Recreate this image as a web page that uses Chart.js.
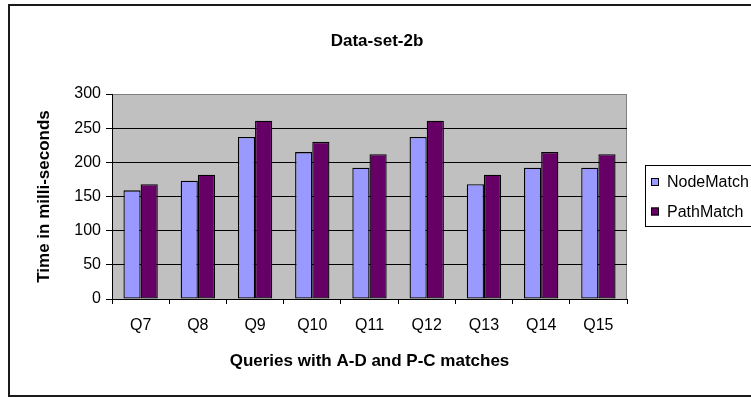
<!DOCTYPE html>
<html>
<head>
<meta charset="utf-8">
<title>Data-set-2b</title>
<script src="https://cdn.jsdelivr.net/npm/chart.js@4.4.1/dist/chart.umd.min.js"></script>
<style>
  html, body { margin: 0; padding: 0; background: #ffffff; }
  #wrap { width: 751px; height: 398px; position: relative; }
</style>
</head>
<body>
<div id="wrap"><canvas id="queryChart" width="751" height="398"></canvas></div>
<script>
// query timings, milliseconds
const queries = ['Q7', 'Q8', 'Q9', 'Q10', 'Q11', 'Q12', 'Q13', 'Q14', 'Q15'];
const nodeMatch = [159, 173, 237, 215, 192, 237, 168, 192, 192];
const pathMatch = [168, 182, 261, 230, 212, 261, 182, 215, 212];
const yTicks = [0, 50, 100, 150, 200, 250, 300];
const chartTitle = 'Data-set-2b';

const fontFamily = '"Liberation Sans", Arial, sans-serif';
const nodeColor = '#9999FF';
const pathColor = '#660066';

// white page with a frame, grey plot area behind the bars
const backdrop = {
    id: 'backdrop',
    beforeDraw(chart) {
        const { ctx, chartArea } = chart;
        ctx.save();
        ctx.fillStyle = '#ffffff';
        ctx.fillRect(0, 0, chart.width, chart.height);
        ctx.strokeStyle = '#1a1a1a';
        ctx.lineWidth = 2;
        ctx.strokeRect(9, 5, 760, 391);
        ctx.fillStyle = '#C0C0C0';
        ctx.fillRect(chartArea.left, chartArea.top, chartArea.right - chartArea.left, chartArea.bottom - chartArea.top);
        ctx.strokeStyle = '#808080';
        ctx.lineWidth = 1;
        ctx.strokeRect(chartArea.left + 0.5, chartArea.top + 0.5, chartArea.right - chartArea.left - 1, chartArea.bottom - chartArea.top);
        ctx.restore();
    }
};

// title is centred on the whole frame, not on the plot, so it is drawn here
const frameTitle = {
    id: 'frameTitle',
    afterDraw(chart) {
        const { ctx } = chart;
        ctx.save();
        ctx.font = 'bold 17px ' + fontFamily;
        ctx.fillStyle = '#000000';
        ctx.textAlign = 'center';
        ctx.textBaseline = 'middle';
        ctx.fillText(chartTitle, 377, 41);
        ctx.restore();
    }
};

// boxed legend on the right, cut off by the page edge
const boxLegend = {
    id: 'boxLegend',
    afterDraw(chart) {
        const { ctx } = chart;
        ctx.save();
        ctx.strokeStyle = '#000000';
        ctx.lineWidth = 1;
        ctx.strokeRect(645.5, 165.5, 140, 61);
        ctx.font = '16px ' + fontFamily;
        ctx.textBaseline = 'middle';
        chart.data.datasets.forEach((ds, i) => {
            const cy = 182 + i * 29.5;
            ctx.fillStyle = ds.backgroundColor;
            ctx.fillRect(651, cy - 4, 8, 8);
            ctx.strokeStyle = '#000000';
            ctx.strokeRect(651.5, cy - 3.5, 7, 7);
            ctx.fillStyle = '#000000';
            ctx.fillText(ds.label, 667, cy + 1);
        });
        ctx.restore();
    }
};

const ctx = document.getElementById('queryChart');
new Chart(ctx, {
    type: 'bar',
    data: {
        labels: queries,
        datasets: [
            { label: 'NodeMatch', data: nodeMatch, backgroundColor: nodeColor, borderColor: '#000000', borderWidth: 1.3, borderSkipped: false },
            { label: 'PathMatch', data: pathMatch, backgroundColor: pathColor, borderColor: '#000000', borderWidth: 1.3, borderSkipped: false }
        ]
    },
    options: {
        responsive: false,
        animation: false,
        layout: { padding: { left: 0, right: 124, top: 94, bottom: 0 } },
        datasets: { bar: { categoryPercentage: 0.6, barPercentage: 1.0 } },
        scales: {
            x: {
                grid: { display: true, offset: true, drawOnChartArea: false, drawTicks: true, tickLength: 5, color: '#000000' },
                border: { display: true, color: '#000000' },
                ticks: { color: '#000000', font: { family: fontFamily, size: 16 }, padding: 12 },
                title: { display: true, text: 'Queries with A-D and P-C matches', color: '#000000', font: { family: fontFamily, size: 17, weight: 'bold' }, padding: { top: 0, bottom: 26 } },
                afterFit(scale) { scale.height = 99; }
            },
            y: {
                min: 0,
                max: 300,
                afterBuildTicks(scale) { scale.ticks = yTicks.map(v => ({ value: v })); },
                grid: {
                    color: c => (c.tick && c.tick.value === 300 ? '#808080' : '#000000'),
                    tickColor: '#000000',
                    tickLength: 6,
                    drawTicks: true
                },
                border: { display: true, color: '#000000' },
                ticks: { color: '#000000', font: { family: fontFamily, size: 16 }, padding: 5 },
                title: { display: true, text: 'Time in milli-seconds', color: '#000000', font: { family: fontFamily, size: 17, weight: 'bold' }, padding: { top: 34, bottom: 0 } },
                afterFit(scale) { scale.width = 112; }
            }
        },
        plugins: {
            legend: { display: false },
            tooltip: { enabled: false },
            title: { display: false }
        }
    },
    plugins: [backdrop, frameTitle, boxLegend]
});
</script>
</body>
</html>
